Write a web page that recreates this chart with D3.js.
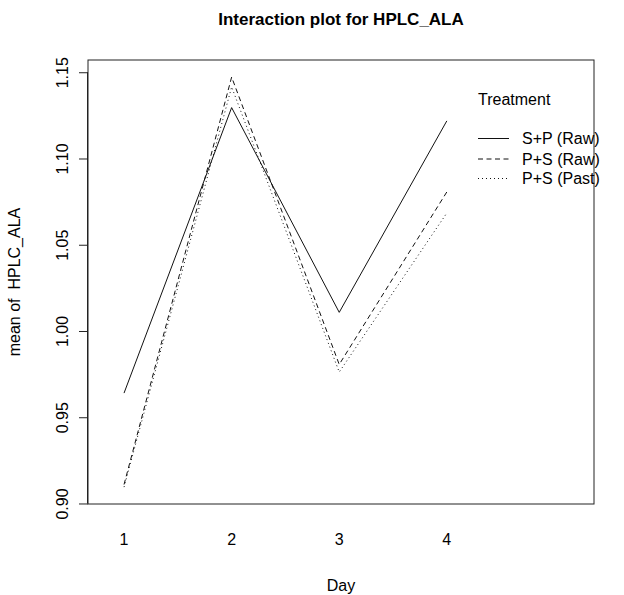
<!DOCTYPE html>
<html><head><meta charset="utf-8">
<script src="https://cdn.jsdelivr.net/npm/d3@7"></script>
<style>body{margin:0;background:#fff}svg{display:block}text{font-family:"Liberation Sans",Arial,sans-serif;white-space:pre}</style>
</head><body>
<script>
const days = ["1","2","3","4"];
const treatments = ["S+P (Raw)","P+S (Raw)","P+S (Past)"];
const spRaw  = [0.964, 1.1295, 1.0108, 1.1218];
const psRaw  = [0.911, 1.1472, 0.9806, 1.0806];
const psPast = [0.9095, 1.1415, 0.9762, 1.0684];
const yTicks = [0.90, 0.95, 1.00, 1.05, 1.10, 1.15];
const dashes = [null, "5,3.5", "1,3"];

const W = 624, H = 595;
const svg = d3.select("body").append("svg").attr("width", W).attr("height", H);
const x = d3.scaleLinear().domain([0.665, 5.368]).range([88, 594]);
const y = d3.scaleLinear().domain([0.8997, 1.1571]).range([504, 60]);

svg.append("rect").attr("x", 88).attr("y", 60).attr("width", 506).attr("height", 444)
  .attr("fill", "none").attr("stroke", "#222").attr("stroke-width", 1);

// y axis
const yAxis = d3.axisLeft(y).tickValues(yTicks).tickSize(9).tickFormat(d3.format(".2f"));
const ga = svg.append("g").attr("transform", "translate(88,0)").call(yAxis);
ga.select(".domain").attr("d", `M-0.5,${y(1.15)}V${y(0.90)}`).attr("stroke", "#222");
ga.selectAll(".tick line").attr("stroke", "#222");
ga.selectAll(".tick text").attr("font-size", 16).attr("fill", "#000")
  .attr("x", null).attr("dy", null).attr("text-anchor", "middle")
  .attr("transform", "translate(-20,0) rotate(-90)");

// x labels (no ticks)
svg.append("g").selectAll("text").data(days).join("text")
  .attr("x", (d, i) => x(i + 1)).attr("y", 545).attr("text-anchor", "middle")
  .attr("font-size", 16).text(d => d);

const series = [spRaw, psRaw, psPast];
const line = d3.line().x((d, i) => x(i + 1)).y(d => y(d));
svg.append("g").selectAll("path").data(series).join("path")
  .attr("d", d => line(d)).attr("fill", "none").attr("stroke", "#111")
  .attr("stroke-width", 1).attr("stroke-dasharray", (d, i) => dashes[i]);

// legend
const lg = svg.append("g");
lg.append("text").attr("x", 478).attr("y", 105).attr("font-size", 16).text("Treatment");
const ly = [138.5, 159, 178.5];
treatments.forEach((t, i) => {
  lg.append("line").attr("x1", 478).attr("x2", 509).attr("y1", ly[i]).attr("y2", ly[i])
    .attr("stroke", "#111").attr("stroke-width", 1).attr("stroke-dasharray", dashes[i]);
  lg.append("text").attr("x", 522).attr("y", ly[i] + 5.5).attr("font-size", 16).text(t);
});

// titles
svg.append("text").attr("x", 341).attr("y", 25).attr("text-anchor", "middle")
  .attr("font-size", 17).attr("font-weight", "bold").text("Interaction plot for HPLC_ALA");
svg.append("text").attr("x", 341).attr("y", 591).attr("text-anchor", "middle")
  .attr("font-size", 16).text("Day");
svg.append("text").attr("transform", `translate(20,${(60 + 504) / 2}) rotate(-90)`)
  .attr("text-anchor", "middle").attr("font-size", 16).text("mean of  HPLC_ALA");
</script>
</body></html>
